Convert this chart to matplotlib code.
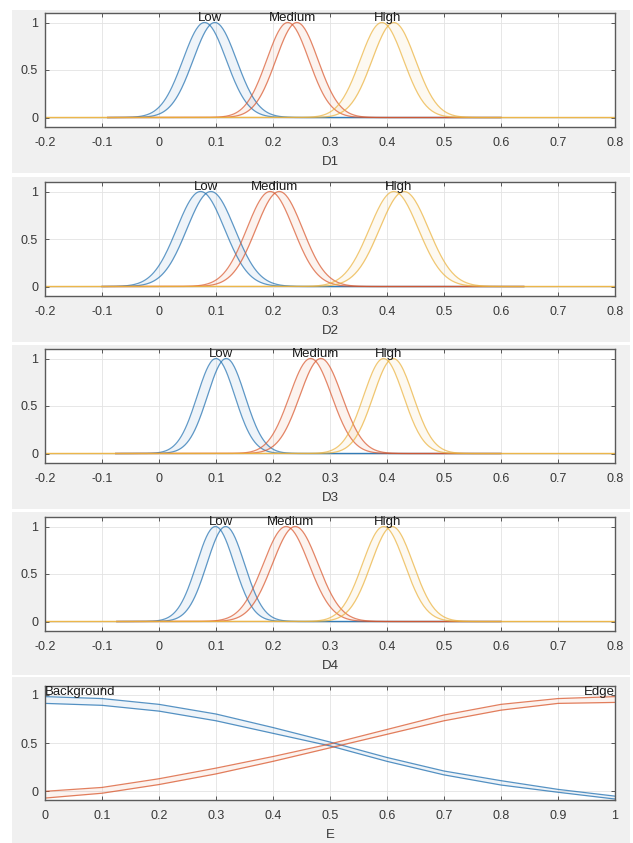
"""Interval type-2 membership functions for inputs D1..D4 and E."""

import matplotlib
matplotlib.use('Agg')
import matplotlib.pyplot as plt
from matplotlib.patches import Rectangle
import numpy as np

plt.rcParams['font.family'] = ['Liberation Sans', 'DejaVu Sans']
plt.rcParams['axes.unicode_minus'] = False

tick_size = 9
label_size = 9.5
line_width = 0.9
colors = ['#1f6fb0', '#d9552a', '#ebb13a']

# Gaussian MFs with uncertain mean: (mean_a, mean_b) per set, one sigma per set
mf_names = ['Low', 'Medium', 'High']
input_names = ['D1', 'D2', 'D3', 'D4']
d_means = [
    [[0.080, 0.098], [0.226, 0.242], [0.391, 0.412]],
    [[0.073, 0.091], [0.195, 0.211], [0.412, 0.430]],
    [[0.100, 0.118], [0.266, 0.284], [0.394, 0.411]],
    [[0.099, 0.117], [0.223, 0.239], [0.394, 0.409]],
]
d_sigmas = [
    [0.038, 0.037, 0.038],
    [0.042, 0.041, 0.043],
    [0.033, 0.037, 0.035],
    [0.033, 0.040, 0.037],
]
# where the Low / Medium curves start and end on each input
d_plot_start = [-0.09, -0.10, -0.076, -0.074]
d_plot_end = [0.60, 0.64, 0.60, 0.60]
d_xticks = [-0.2, -0.1, 0, 0.1, 0.2, 0.3, 0.4, 0.5, 0.6, 0.7, 0.8]
d_xticklabels = ['-0.2', '-0.1', '0', '0.1', '0.2', '0.3', '0.4', '0.5', '0.6', '0.7', '0.8']

# E input
e_x = [0.0, 0.1, 0.2, 0.3, 0.4, 0.5, 0.6, 0.7, 0.8, 0.9, 1.0]
background_upper = [0.98, 0.96, 0.90, 0.80, 0.66, 0.51, 0.35, 0.21, 0.11, 0.02, -0.05]
background_lower = [0.91, 0.89, 0.83, 0.73, 0.60, 0.47, 0.31, 0.17, 0.065, -0.01, -0.08]
edge_upper = [0.0, 0.04, 0.13, 0.24, 0.36, 0.49, 0.64, 0.79, 0.90, 0.96, 0.98]
edge_lower = [-0.07, -0.02, 0.07, 0.18, 0.31, 0.45, 0.59, 0.73, 0.84, 0.91, 0.92]
e_names = ['Background', 'Edge']
e_xticks = [0, 0.1, 0.2, 0.3, 0.4, 0.5, 0.6, 0.7, 0.8, 0.9, 1]
e_xticklabels = ['0', '0.1', '0.2', '0.3', '0.4', '0.5', '0.6', '0.7', '0.8', '0.9', '1']

yticks = [0, 0.5, 1]
yticklabels = ['0', '0.5', '1']

# layout in pixels (figure is 633 x 843)
fig_w, fig_h = 633, 843
bands = [(10, 173), (177, 342), (345, 509), (512, 675), (677, 843)]
axes_tops = [13, 182, 349, 517, 686]
axes_height = 114
axes_left, axes_width = 45, 570

fig = plt.figure(figsize=(fig_w / 100, fig_h / 100), dpi=100, facecolor='white')
for top, bottom in bands:
    fig.patches.append(Rectangle((12 / fig_w, 1 - bottom / fig_h), (630 - 12) / fig_w,
                                 (bottom - top) / fig_h, transform=fig.transFigure,
                                 facecolor='#f0f0f0', edgecolor='none', zorder=-10))


def style_axes(ax, xticks, xticklabels, xlabel):
    ax.set_facecolor('white')
    ax.set_xticks(xticks)
    ax.set_xticklabels(xticklabels)
    ax.set_yticks(yticks)
    ax.set_yticklabels(yticklabels)
    ax.tick_params(direction='in', top=True, right=True, length=3, width=0.6,
                   color='#404040', labelsize=tick_size, labelcolor='#383838')
    ax.tick_params(axis='x', pad=7)
    ax.tick_params(axis='y', pad=5)
    ax.grid(True, color='#e3e3e3', lw=0.6)
    ax.set_axisbelow(True)
    for spine in ax.spines.values():
        spine.set_color('#5a5a5a')
        spine.set_linewidth(1.0)
    ax.set_xlabel(xlabel, fontsize=label_size, color='#383838', labelpad=5.5)


axes = []
for i in range(5):
    top = axes_tops[i]
    rect = [axes_left / fig_w, 1 - (top + axes_height) / fig_h,
            axes_width / fig_w, axes_height / fig_h]
    axes.append(fig.add_axes(rect, zorder=1))

for i in range(len(input_names)):
    ax = axes[i]
    for k in range(len(mf_names)):
        if k < 2:
            x = np.linspace(d_plot_start[i], d_plot_end[i], 400)
        else:
            x = np.linspace(-0.2, 0.8, 400)
        sigma = d_sigmas[i][k]
        curves = [np.exp(-(x - m) ** 2 / (2 * sigma ** 2)) for m in d_means[i][k]]
        ax.fill_between(x, np.minimum(curves[0], curves[1]), np.maximum(curves[0], curves[1]),
                        color=colors[k], alpha=0.07, lw=0)
        for c in curves:
            ax.plot(x, c, color=colors[k], lw=line_width, alpha=0.7)
        ax.text(np.mean(d_means[i][k]), 1.045, mf_names[k], ha='center', va='center',
                fontsize=label_size, color='#1a1a1a')
    ax.set_xlim(-0.2, 0.8)
    ax.set_ylim(-0.1, 1.1)
    style_axes(ax, d_xticks, d_xticklabels, input_names[i])

ax = axes[4]
ax.fill_between(e_x, background_lower, background_upper, color=colors[0], alpha=0.07, lw=0)
ax.fill_between(e_x, edge_lower, edge_upper, color=colors[1], alpha=0.07, lw=0)
ax.plot(e_x, background_upper, color=colors[0], lw=line_width, alpha=0.75)
ax.plot(e_x, background_lower, color=colors[0], lw=line_width, alpha=0.75)
ax.plot(e_x, edge_upper, color=colors[1], lw=line_width, alpha=0.75)
ax.plot(e_x, edge_lower, color=colors[1], lw=line_width, alpha=0.75)
ax.text(0.0, 1.03, e_names[0], ha='left', va='center', fontsize=label_size, color='#1a1a1a')
ax.text(1.0, 1.03, e_names[1], ha='right', va='center', fontsize=label_size, color='#1a1a1a')
ax.set_xlim(0, 1)
ax.set_ylim(-0.09, 1.09)
style_axes(ax, e_xticks, e_xticklabels, 'E')

plt.savefig('out.png', dpi=100, facecolor=fig.get_facecolor())
